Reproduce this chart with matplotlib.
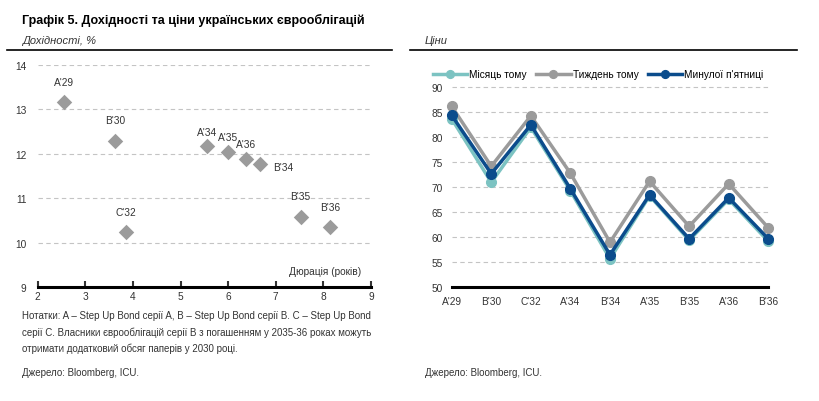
import matplotlib
matplotlib.use("Agg")
import matplotlib.pyplot as plt
from matplotlib.lines import Line2D

plt.rcParams['font.family'] = ['Liberation Sans Narrow', 'Liberation Sans', 'DejaVu Sans']

# left chart: duration vs yield
bond_names = ["A'29", "B'30", "C'32", "A'34", "A'35", "A'36", "B'34", "B'35", "B'36"]
duration = [2.55, 3.62, 3.85, 5.55, 5.99, 6.38, 6.67, 7.52, 8.14]
yields = [13.16, 12.30, 10.24, 12.17, 12.05, 11.89, 11.77, 10.59, 10.35]
# label offsets (points) per bond
label_pos = [(0, 11), (0, 11), (0, 11), (0, 7), (0, 7), (0, 7), (17, -2), (0, 11), (0, 11)]

# right chart: prices
price_cats = ["A'29", "B'30", "C'32", "A'34", "B'34", "A'35", "B'35", "A'36", "B'36"]
month_ago = [83.7, 71.0, 82.0, 69.3, 55.7, 68.3, 59.4, 67.6, 59.2]
week_ago = [86.2, 74.2, 84.3, 72.8, 59.0, 71.2, 62.2, 70.7, 61.9]
last_friday = [84.4, 72.7, 82.5, 69.7, 56.5, 68.5, 59.7, 67.9, 59.7]

teal = '#7cc3c2'
grey = '#9b9b9b'
navy = '#0b4c8c'
txt = '#333333'
fs = 7.3

fig = plt.figure(figsize=(8.2, 4.02), dpi=100)
W, H = 820, 402

def ax_rect(x0, y0, x1, y1):
    return [x0 / W, 1 - y1 / H, (x1 - x0) / W, (y1 - y0) / H]

# titles and rules
fig.text(22 / W, 1 - 20 / H, "Графік 5. Дохідності та ціни українських єврооблігацій",
         fontsize=9, fontweight='bold', va='center', ha='left', color='black')
fig.text(22 / W, 1 - 41 / H, "Дохідності, %", fontsize=8, style='italic', va='center', color=txt)
fig.text(425 / W, 1 - 41 / H, "Ціни", fontsize=8, style='italic', va='center', color=txt)
fig.add_artist(Line2D([7 / W, 392 / W], [1 - 51 / H] * 2, color='black', lw=1.2))
fig.add_artist(Line2D([410 / W, 797 / W], [1 - 51 / H] * 2, color='black', lw=1.2))

# left scatter
ax1 = fig.add_axes(ax_rect(37.7, 66, 371, 288.3))
ax1.scatter(duration, yields, marker='D', s=62, color=grey, zorder=3, linewidths=0)
for name, x, y, off in zip(bond_names, duration, yields, label_pos):
    ax1.annotate(name, (x, y), xytext=off, textcoords='offset points',
                 ha='center', va='bottom' if off[1] > 0 else 'center', fontsize=fs, color=txt)
ax1.set_xlim(2, 9)
ax1.set_ylim(9, 14)
ax1.set_xticks(range(2, 10))
ax1.set_yticks(range(9, 15))
for y in range(10, 15):
    ax1.axhline(y, color='#c4c4c4', lw=0.8, ls=(0, (4, 3)), zorder=1)
for s in ['top', 'right', 'left']:
    ax1.spines[s].set_visible(False)
ax1.spines['bottom'].set_linewidth(2.2)
ax1.tick_params(axis='y', length=0, pad=8, labelsize=fs, colors=txt)
ax1.tick_params(axis='x', length=4, width=1.5, direction='in', pad=3, labelsize=fs, colors=txt)
ax1.text(8.8, 9.25, "Дюрація (років)", fontsize=fs, color=txt, ha='right', va='bottom')

notes = ["Нотатки: A – Step Up Bond серії A, B – Step Up Bond серії B. C – Step Up Bond",
         "серії C. Власники єврооблігацій серії B з погашенням у 2035-36 роках можуть",
         "отримати додатковий обсяг паперів у 2030 році."]
for i, line in enumerate(notes):
    fig.text(22 / W, 1 - (316 + 16.5 * i) / H, line, fontsize=7, va='center', color=txt)
fig.text(22 / W, 1 - 373 / H, "Джерело: Bloomberg, ICU.", fontsize=7, va='center', color=txt)
fig.text(425 / W, 1 - 373 / H, "Джерело: Bloomberg, ICU.", fontsize=7, va='center', color=txt)

# right line chart
ax2 = fig.add_axes(ax_rect(451.7, 88.3, 768.3, 288.3))
xs = range(len(price_cats))
ax2.plot(xs, month_ago, color=teal, lw=2.5, marker='o', ms=7, label='Місяць тому', zorder=3)
ax2.plot(xs, week_ago, color=grey, lw=2.5, marker='o', ms=7, label='Тиждень тому', zorder=2)
ax2.plot(xs, last_friday, color=navy, lw=2.5, marker='o', ms=7, label="Минулої п'ятниці", zorder=4)
ax2.set_xlim(0, len(price_cats) - 1)
ax2.set_ylim(50, 90)
ax2.set_yticks(range(50, 95, 5))
ax2.set_xticks(list(xs))
ax2.set_xticklabels(price_cats)
for y in range(55, 95, 5):
    ax2.axhline(y, color='#c4c4c4', lw=0.8, ls=(0, (4, 3)), zorder=1)
for s in ['top', 'right', 'left']:
    ax2.spines[s].set_visible(False)
ax2.spines['bottom'].set_linewidth(2.2)
ax2.tick_params(axis='y', length=0, pad=6.5, labelsize=fs, colors=txt)
ax2.tick_params(axis='x', length=0, pad=6, labelsize=fs, colors=txt)
for line in ax2.get_lines():
    line.set_clip_on(False)
leg = ax2.legend(loc='lower left', bbox_to_anchor=(-0.085, 1.0), ncol=3, frameon=False,
                 fontsize=fs, handlelength=3.4, handletextpad=0.2, columnspacing=0.9,
                 borderaxespad=0.4, markerscale=0.8)

fig.savefig('out.png', dpi=100)
